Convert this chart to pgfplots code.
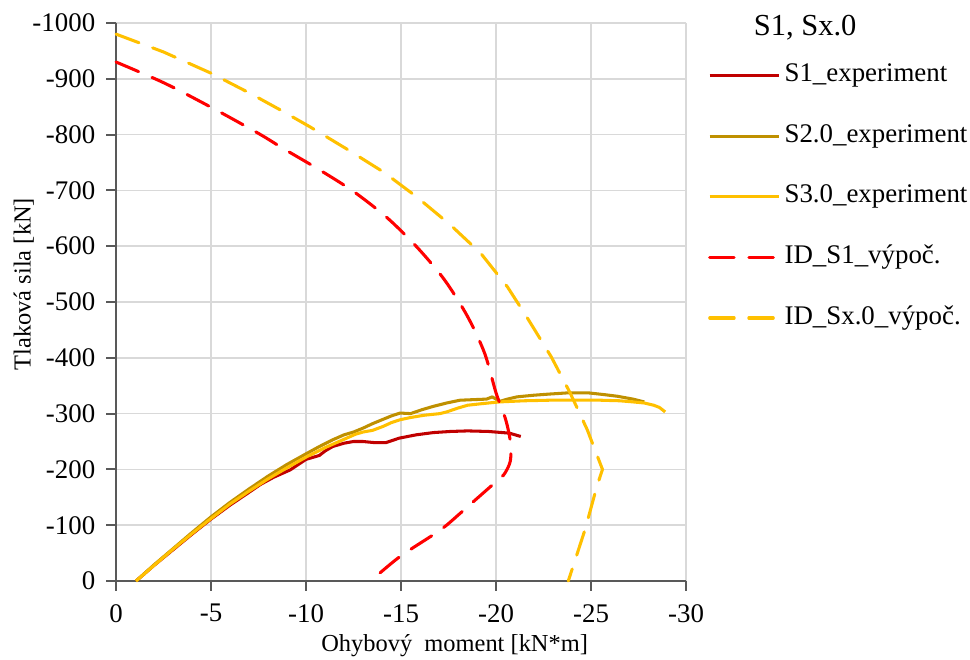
\documentclass[border=0pt]{standalone}
\usepackage{pgfplots}
\pgfplotsset{compat=1.18}
\usepackage{fontspec}
\setmainfont{Liberation Serif}
\definecolor{cS1}{HTML}{C00000}
\definecolor{cS2}{HTML}{BF9000}
\definecolor{cS3}{HTML}{FFC000}
\definecolor{cID1}{HTML}{FF0000}
\definecolor{gridc}{HTML}{D9D9D9}
\definecolor{axc}{HTML}{595959}
\begin{document}
\begin{tikzpicture}
\useasboundingbox (-47.5pt,-32.3pt) rectangle (349.5pt,237.8pt);
\begin{axis}[
  scale only axis, width=233.3pt, height=228.4pt,
  at={(0,0)}, anchor=south west,
  x dir=reverse, y dir=reverse,
  xmin=-30, xmax=0, ymin=-1000, ymax=0,
  xtick={0,-5,-10,-15,-20,-25,-30},
  ytick={0,-100,-200,-300,-400,-500,-600,-700,-800,-900,-1000},
  grid=major, major grid style={gridc, line width=0.6pt},
  axis line style={axc, line width=0.8pt},
  axis x line*=bottom, axis y line*=left,
  tick style={axc, line width=0.8pt},
  tick align=outside, major tick length=4pt,
  /pgf/number format/assume math mode=true,
  /pgf/number format/set thousands separator={},
  ticklabel style={font=\fontsize{11}{13}\selectfont, text=black},
  xticklabel style={yshift=-2pt},
  yticklabel style={xshift=-1pt},
  xlabel={Ohybový\ \ moment [kN*m]},
  ylabel={Tlaková sila [kN]},
  xlabel style={font=\fontsize{13.2}{15}\selectfont},
  ylabel style={font=\fontsize{12.8}{15}\selectfont},
  every axis x label/.style={at={(axis description cs:0.594,-0.115)}, anchor=center},
  every axis y label/.style={at={(axis description cs:-0.162,0.532)}, rotate=90, anchor=center},
  legend image code/.code={\draw[#1] (0pt,0pt) -- (28.5pt,0pt);},
  legend style={draw=none, fill=none, at={(axis description cs:1.038,0.935)}, anchor=north west,
    font=\fontsize{11}{13}\selectfont, row sep=11.8pt, inner sep=0pt,
    nodes={inner sep=1.5pt, text depth=0.25em, text height=0.75em}},
  legend cell align=left,
  clip=false,
]
\addplot[cS1, line width=1.25pt, line join=round] coordinates {
(-1.05,0) (-2,-28) (-3,-56) (-4,-84) (-5,-111) (-6,-136) (-7,-159) (-7.6,-173) (-8.3,-186) (-9.16,-199)
(-10,-218) (-10.7,-225) (-11,-233) (-11.4,-241) (-12,-247) (-12.5,-250) (-13.0,-250) (-13.6,-248) (-14.2,-248)
(-14.9,-256) (-15.8,-262) (-16.7,-266) (-17.6,-268) (-18.5,-269) (-19.6,-268) (-20.7,-265) (-21.3,-259)
};
\addlegendentry{S1\_experiment}
\addplot[cS2, line width=1.25pt, line join=round] coordinates {
(-1.05,0) (-2,-29) (-3,-58) (-4,-87) (-5,-115) (-6,-141) (-7,-165) (-8,-188) (-9,-209) (-10,-228)
(-10.7,-241) (-11.4,-253) (-12,-262) (-12.5,-267) (-13.0,-274) (-13.5,-282) (-14,-289) (-14.5,-296) (-14.95,-301)
(-15.5,-300) (-16.1,-307) (-16.7,-313) (-17.4,-319) (-18.1,-324) (-18.8,-325) (-19.5,-326) (-19.8,-330) (-20.2,-322)
(-20.6,-326) (-21.1,-330) (-22,-333) (-22.8,-335) (-23.7,-337) (-24.9,-337) (-25.7,-334) (-26.4,-331) (-27.2,-326) (-27.8,-321)
};
\addlegendentry{S2.0\_experiment}
\addplot[cS3, line width=1.25pt, line join=round] coordinates {
(-1.05,0) (-2,-28) (-3,-57) (-4,-85) (-5,-112) (-6,-138) (-7,-161) (-8,-183) (-9,-203) (-10,-222)
(-11,-239) (-12,-254) (-12.6,-263) (-13.0,-267) (-13.5,-270) (-14.05,-277) (-14.5,-284) (-14.95,-289)
(-15.5,-293) (-16.2,-297) (-17.05,-300) (-17.4,-303) (-18,-310) (-18.5,-315) (-19.3,-318) (-20.2,-321)
(-21.5,-323) (-22.8,-324) (-24,-324) (-25.5,-324) (-26.5,-323) (-27.2,-321) (-27.8,-319) (-28.3,-315) (-28.6,-311) (-28.9,-303)
};
\addlegendentry{S3.0\_experiment}
\addplot[cID1, line width=1.25pt, line cap=round, dash pattern=on 10pt off 6pt, smooth, tension=0.5] coordinates {
(0,-930) (-2.5,-893) (-5,-849) (-7.5,-802) (-8.8,-775) (-10.65,-738) (-12.5,-698) (-14.3,-650)
(-15.9,-596) (-17.3,-539) (-18.5,-474) (-19.4,-408) (-20.0,-337) (-20.5,-290) (-20.75,-250)
(-20.75,-215) (-20.4,-190) (-19.9,-175) (-18.8,-142) (-18.1,-121) (-17.05,-91) (-14.95,-44) (-13.4,0)
};
\addlegendentry{ID\_S1\_výpoč.}
\addplot[cS3, line width=1.25pt, line cap=round, dash pattern=on 10pt off 6pt] coordinates {
(0,-980) (-2.5,-948) (-5,-910) (-7.05,-874) (-8.6,-845) (-10.2,-814) (-12.1,-775) (-14.07,-733)
(-15.8,-689) (-17.6,-638) (-19.2,-587) (-20.6,-527) (-21.6,-474) (-22.9,-402) (-23.9,-337)
(-24.8,-271) (-25.6,-200) (-25.3,-169) (-24.7,-94) (-23.8,0)
};
\addlegendentry{ID\_Sx.0\_výpoč.}
\node[font=\fontsize{12.5}{15}\selectfont, anchor=center] at (axis description cs:1.209,0.991) {S1, Sx.0};
\end{axis}
\end{tikzpicture}
\end{document}
